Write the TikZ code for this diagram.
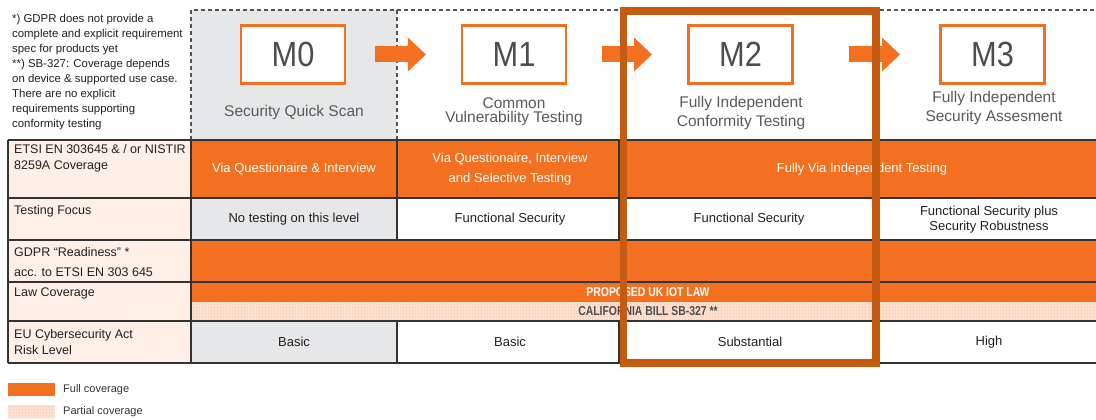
\documentclass[tikz,border=0pt]{standalone}
\usepackage{fontspec}
\setmainfont{Liberation Sans}
\newfontfamily\condfont[FakeStretch=0.8]{Liberation Sans}
\newfontfamily\mfont[FakeStretch=0.88]{Liberation Sans}
\usetikzlibrary{arrows.meta,patterns}
\definecolor{morange}{HTML}{F37021}
\definecolor{hlc}{HTML}{C55A11}
\definecolor{qgray}{HTML}{E6E7E8}
\definecolor{peach}{HTML}{FEEFE7}
\definecolor{partial}{HTML}{FDE3D3}
\definecolor{pdot}{HTML}{F9C09C}
\definecolor{lineg}{HTML}{333333}
\definecolor{mtext}{HTML}{4D4D4D}
\definecolor{subg}{HTML}{595959}
\definecolor{txt}{HTML}{231F20}
\begin{document}
\begin{tikzpicture}[x=1pt,y=-1pt,
 mbox/.style={draw=morange, line width=2.2pt, fill=white, minimum width=104pt, minimum height=58pt, inner sep=0pt, font=\mfont\fontsize{35}{35}\selectfont, text=mtext},
 sub/.style={align=center, font=\fontsize{15.5}{15}\selectfont, text=subg, inner sep=0pt},
 barrow/.style={draw=morange, line width=16pt, -{Triangle[length=18pt,width=34pt,line width=0pt]}},
 ctext/.style={align=center, font=\fontsize{13}{15}\selectfont, text=txt, inner sep=0pt},
 wtext/.style={ctext, text=white},
 ltext/.style={align=left, anchor=north west, font=\fontsize{12.5}{16}\selectfont, text=txt, inner sep=0pt},
 lawtext/.style={font=\condfont\bfseries\fontsize{13}{13}\selectfont, inner sep=0pt},
 tline/.style={draw=lineg, line width=1.4pt},
 dline/.style={draw=lineg!85, line width=1.3pt, dash pattern=on 4pt off 3pt},
 legtext/.style={anchor=west, font=\fontsize{11}{13}\selectfont, text=lineg, inner sep=0pt},
 partfill/.style={fill=partial, postaction={pattern=crosshatch dots, pattern color=pdot}},
]
\useasboundingbox (0,0) rectangle (1096,420);

% ---------- header area ----------
\fill[qgray] (191,10) rectangle (397,140);
\draw[dline] (191,140) -- (191,10) -- (1096,10);
\draw[dline] (397,10) -- (397,140);

% ---------- table fills ----------
\fill[peach] (8,140) rectangle (191,363);
\fill[morange] (191,140) rectangle (1096,198);
\fill[qgray] (191,198) rectangle (397,240);
\fill[morange] (191,240) rectangle (1096,302);
\path[partfill] (191,302) rectangle (1096,321);
\fill[qgray] (191,321) rectangle (397,363);

% ---------- table lines ----------
\foreach \yy in {140,198,240,282,321,363} \draw[tline] (8,\yy) -- (1096,\yy);
\draw[tline] (8,140) -- (8,363);
\draw[tline] (191,140) -- (191,363);
\draw[tline] (397,140) -- (397,240);
\draw[tline] (397,321) -- (397,363);
\draw[tline] (619,140) -- (619,240);
\draw[tline] (619,321) -- (619,363);
\draw[tline] (876,198) -- (876,240);
\draw[tline] (876,321) -- (876,363);

% ---------- footnote ----------
\node[ltext, font=\fontsize{11.4}{15}\selectfont] (note) at (12,14) {*) GDPR does not provide a\\complete and explicit requirement\\spec for products yet\\**) SB-327: Coverage depends\\on device \& supported use case.\\There are no explicit\\requirements supporting\\conformity testing};

% ---------- row labels ----------
\node[ltext] (l1) at (14,144) {ETSI EN 303645 \& / or NISTIR\\8259A Coverage};
\node[ltext] (l2) at (14,205.5) {Testing Focus};
\node[ltext] (l3) at (14,247) {GDPR “Readiness” *\\[4pt]acc. to ETSI EN 303 645};
\node[ltext] (l4) at (14,287.5) {Law Coverage};
\node[ltext] (l5) at (14,329.5) {EU Cybersecurity Act\\Risk Level};

% ---------- row 1 ----------
\node[wtext] (c10) at (294,169) {Via Questionaire \& Interview};
\node[wtext, font=\fontsize{13}{20}\selectfont] (c11) at (510,169) {Via Questionaire, Interview\\and Selective Testing};
\node[wtext] (c12) at (862,169) {Fully Via Independent Testing};
% ---------- row 2 ----------
\node[ctext] (c20) at (294,219) {No testing on this level};
\node[ctext] (c21) at (510,219) {Functional Security};
\node[ctext] (c22) at (749,219) {Functional Security};
\node[ctext] (c23) at (989,219.5) {Functional Security plus\\Security Robustness};
% ---------- row 4 ----------
\node[lawtext, text=white] (law1) at (648,292) {PROPOSED UK IOT LAW};
\node[lawtext, text=mtext] (law2) at (648,311) {CALIFORNIA BILL SB-327 **};
% ---------- row 5 ----------
\node[ctext] (c50) at (294,342) {Basic};
\node[ctext] (c51) at (510,342) {Basic};
\node[ctext] (c52) at (750,342) {Substantial};
\node[ctext] (c53) at (989,342) {High};

% ---------- legend ----------
\fill[morange] (8,383) rectangle (55,396);
\node[legtext] (lg1) at (63,389.5) {Full coverage};
\path[partfill] (8,405) rectangle (55,418);
\node[legtext] (lg2) at (63,412) {Partial coverage};

% ---------- maturity levels ----------
\node[mbox] (m0) at (293,54.5) {M0};
\node[mbox] (m1) at (514,54.5) {M1};
\node[mbox] (m2) at (740.5,54.5) {M2};
\node[mbox] (m3) at (992.5,54.5) {M3};

\node[sub] (s0) at (294,112) {Security Quick Scan};
\node[sub, font=\fontsize{15.5}{14}\selectfont] (s1) at (514,111.5) {Common\\Vulnerability Testing};
\node[sub, font=\fontsize{15.5}{19}\selectfont] (s2) at (741,112.5) {Fully Independent\\Conformity Testing};
\node[sub, font=\fontsize{15.5}{19}\selectfont] (s3) at (994,107.5) {Fully Independent\\Security Assesment};

\draw[barrow, shorten <=29pt, shorten >=35pt] (m0) -- (m1);
\draw[barrow, shorten <=35pt, shorten >=35.4pt] (m1) -- (m2);
\draw[barrow, shorten <=55.4pt, shorten >=39.4pt] (m2) -- (m3);

% ---------- highlight ----------
\node[draw=hlc, line width=7.5pt, minimum width=252.5pt, minimum height=352pt, inner sep=0pt] (hl) at (749.75,187) {};
\end{tikzpicture}
\end{document}
